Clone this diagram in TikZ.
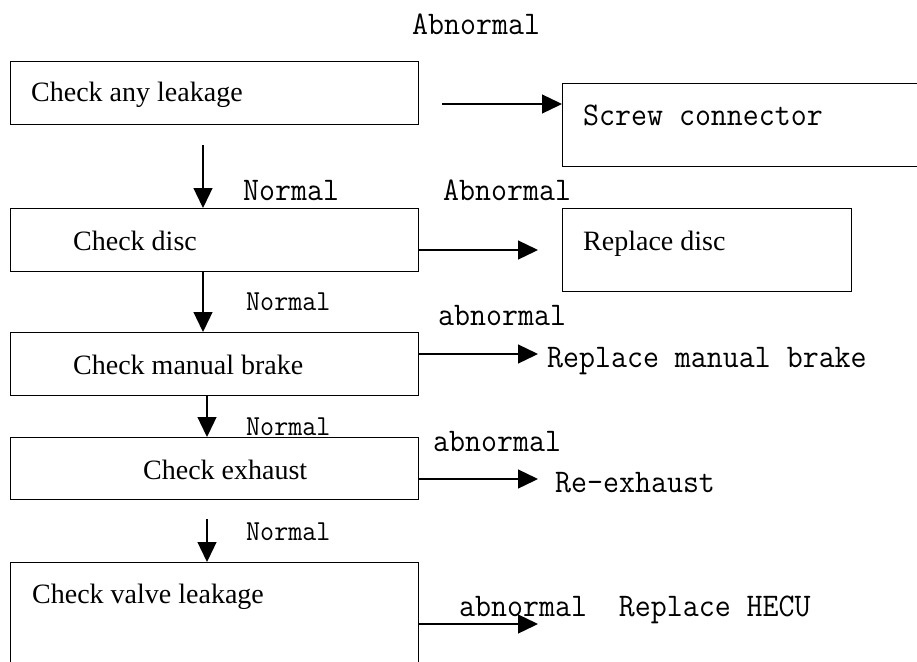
\documentclass[tikz,border=0pt]{standalone}
\usepackage{fontspec}
\setmainfont{Liberation Serif}
\newfontfamily\monofont[FakeStretch=0.94]{Latin Modern Mono}
\usetikzlibrary{arrows.meta, positioning}

\tikzset{
  box/.style={draw, line width=1.3pt, anchor=north west, inner sep=0pt},
  txt/.style={anchor=base west, inner sep=0pt, font=\fontsize{28}{30}\selectfont},
  mono/.style={anchor=base west, inner sep=0pt, font=\monofont\fontsize{33}{35}\selectfont},
  monosm/.style={anchor=base west, inner sep=0pt, font=\monofont\fontsize{29}{31}\selectfont},
  arr/.style={line width=1.3pt, -{Triangle[length=20pt,width=19pt]}}
}

\begin{document}
\begin{tikzpicture}[x=1pt, y=-1pt]
                \useasboundingbox (0,0) rectangle (917,661);
                \clip (0,0) rectangle (917,661);

                % Check boxes
                \node[box, minimum width=408pt, minimum height=63pt] (b1) at (10,61) {};
                \node[box, minimum width=408pt, minimum height=63pt] (b2) at (10,208) {};
                \node[box, minimum width=408pt, minimum height=63pt] (b3) at (10,332) {};
                \node[box, minimum width=408pt, minimum height=62pt] (b4) at (10,437) {};
                \node[box, minimum width=408pt, minimum height=130pt] (b5) at (10,562) {};
                \node[txt] (t1) at (31,101) {Check any leakage};
                \node[txt] (t2) at (73,250) {Check disc};
                \node[txt] (t3) at (73,374) {Check manual brake};
                \node[txt] (t4) at (143,479) {Check exhaust};
                \node[txt] (t5) at (32,603) {Check valve leakage};

                % Remedies
                \node[box, minimum width=380pt, minimum height=83pt] (r1) at (562,83) {};
                \node[mono] (s1) at (583,125) {Screw connector};
                \node[box, minimum width=289pt, minimum height=83pt] (r2) at (562,208) {};
                \node[txt] (s2) at (583,250) {Replace disc};
                \node[mono] (s3) at (547,367) {Replace manual brake};
                \node[mono] (s4) at (555,492) {Re-exhaust};

                % Normal path
                \coordinate (v1) at (203,145);
                \coordinate (v4) at (207,519);
                \draw[arr] (v1) -- (v1 |- b2.north);
                \draw[arr] (b2.south -| v1) -- (b3.north -| v1);
                \draw[arr] (b3.south -| v4) -- (b4.north -| v4);
                \draw[arr] (v4) -- (v4 |- b5.north);
                \node[mono] (n1) at (243,200) {Normal};
                \node[monosm] (n2) at (246,310) {Normal};
                \node[monosm] (n3) at (246,435) {Normal};
                \node[monosm] (n4) at (246,540) {Normal};

                % Abnormal path
                \coordinate (h1) at (442,104);
                \coordinate (h2) at (538,250);
                \coordinate (h3) at (538,354);
                \coordinate (h4) at (538,479);
                \coordinate (h5) at (538,624);
                \draw[arr] (h1) -- (r1.west |- h1);
                \draw[arr] (b2.east |- h2) -- (h2);
                \draw[arr] (b3.east |- h3) -- (h3);
                \draw[arr] (b4.east |- h4) -- (h4);
                \draw[arr] (b5.east |- h5) -- (h5);
                \node[mono] (a1) at (412,35) {Abnormal};
                \node[mono] (a2) at (443,200) {Abnormal};
                \node[mono] (a3) at (438,325) {abnormal};
                \node[mono] (a4) at (433,451) {abnormal};
                \node[mono] (a5) at (459,616) {abnormal\ \ Replace HECU};
            \end{tikzpicture}
\end{document}
